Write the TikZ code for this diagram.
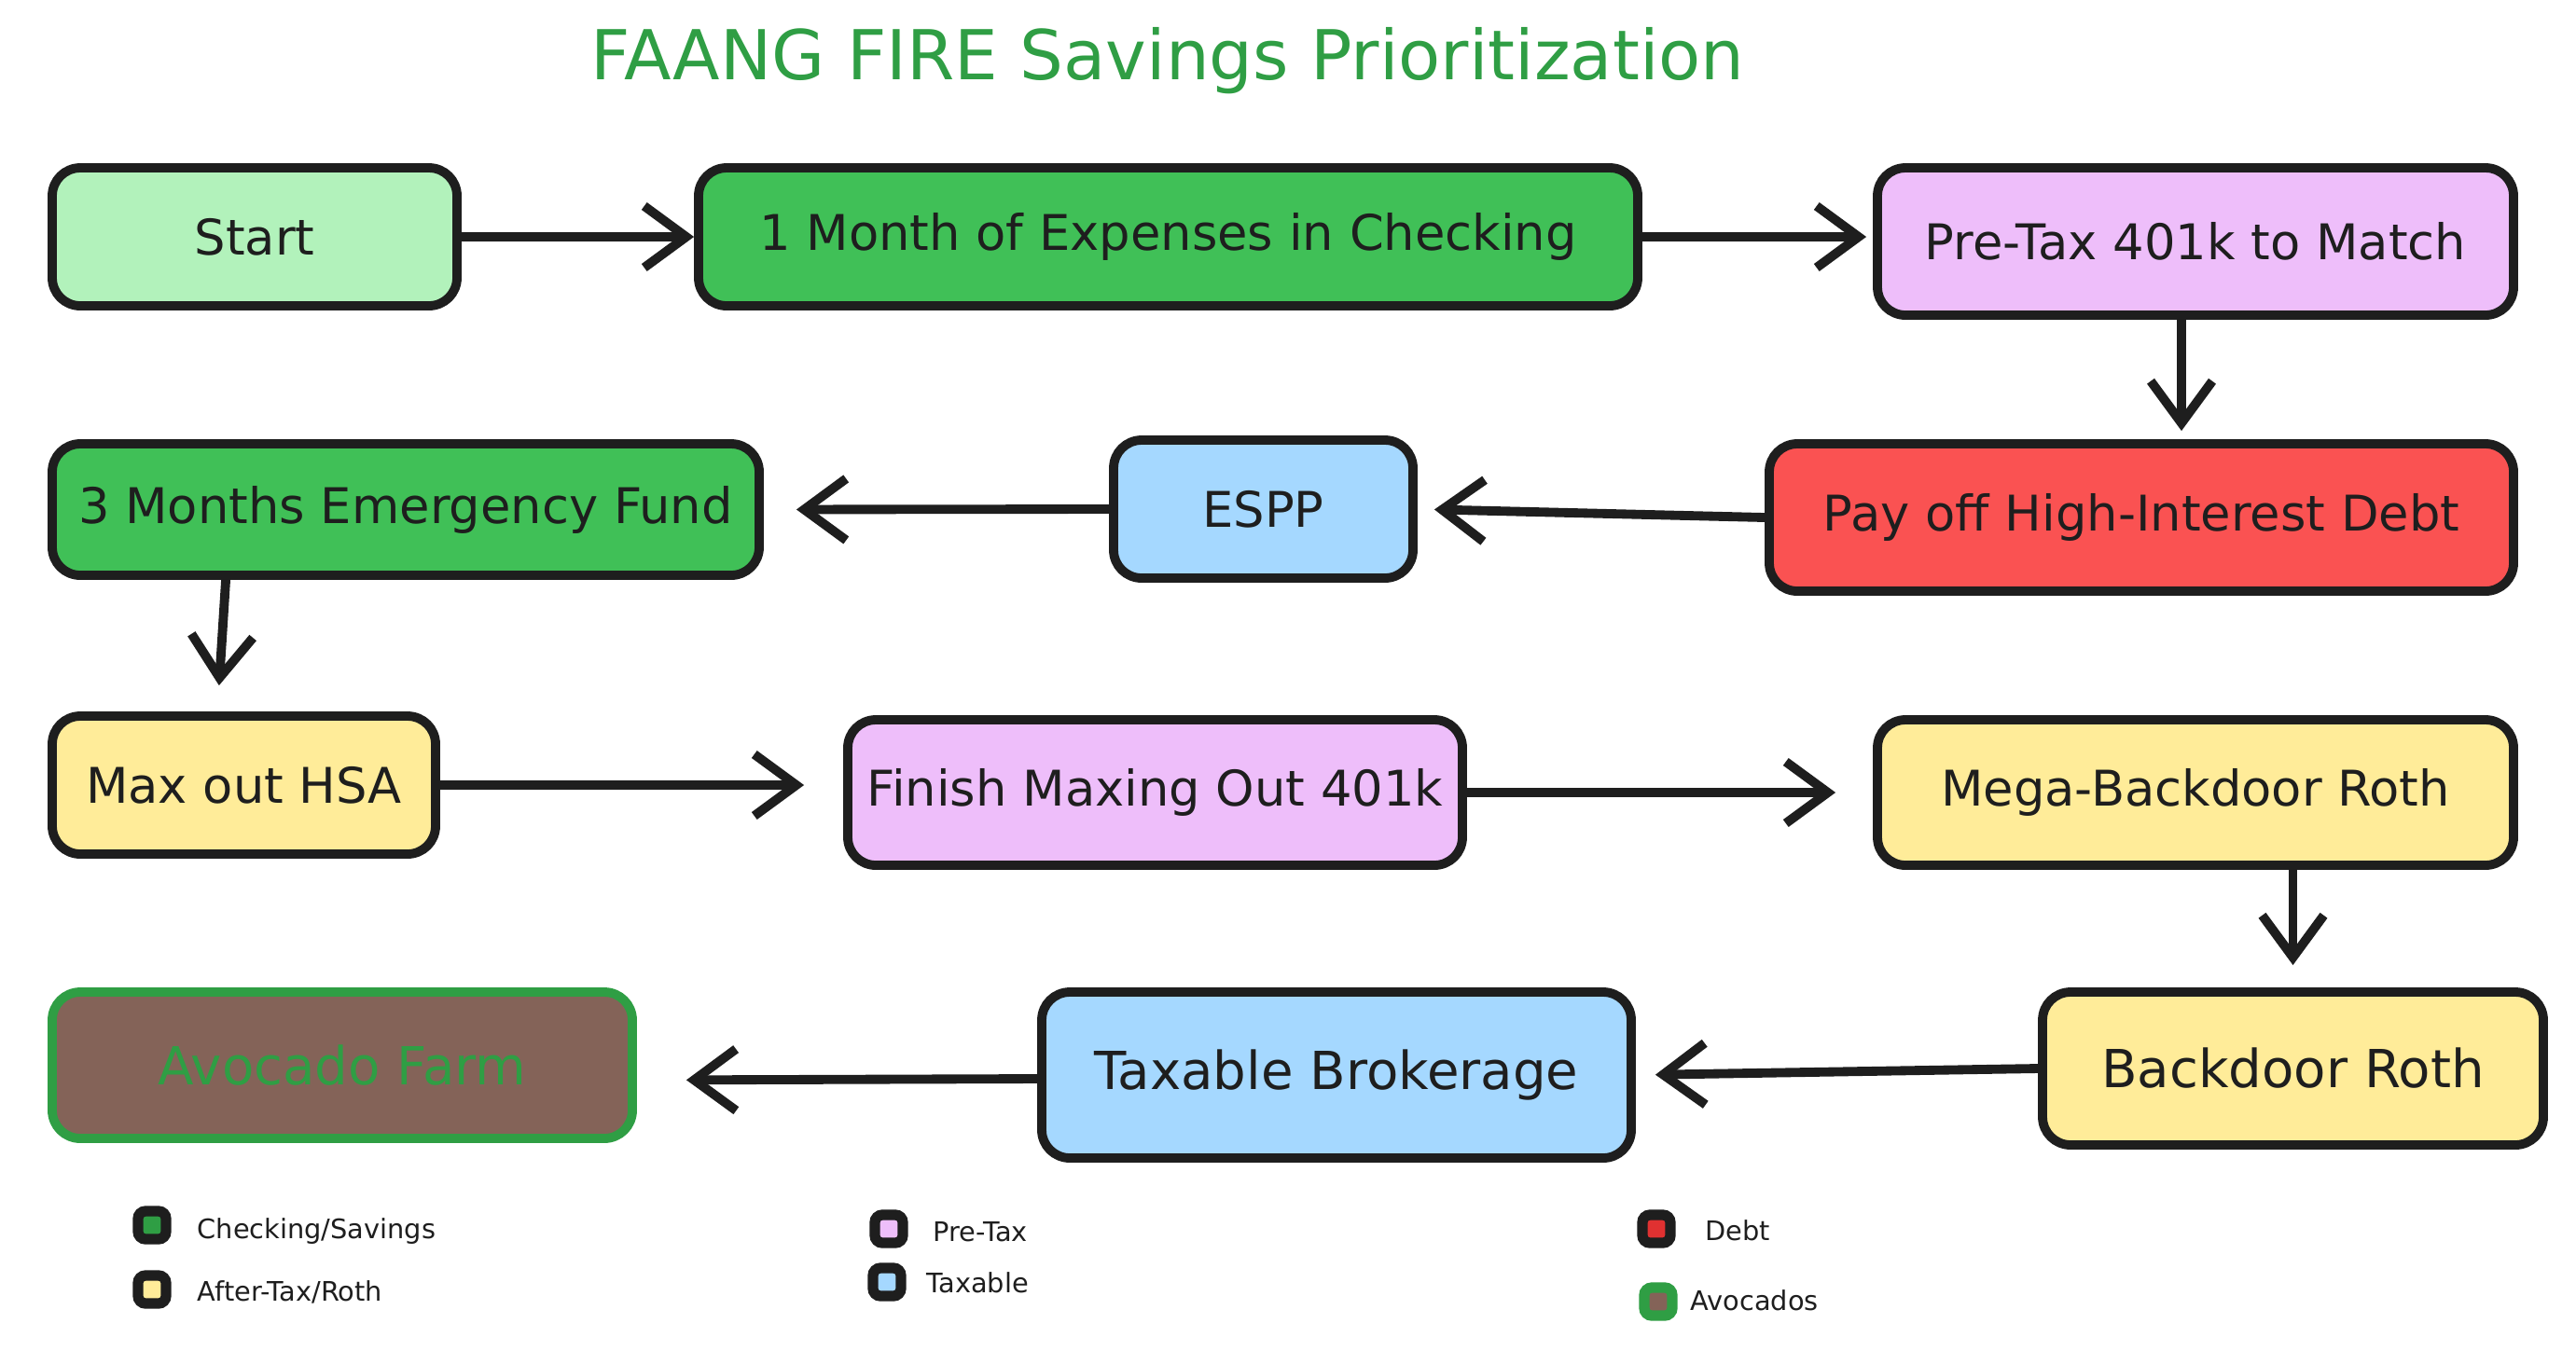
\documentclass[tikz,border=0pt]{standalone}
\usepackage{fontspec}
\setmainfont{DejaVu Sans}
\usetikzlibrary{arrows.meta,calc}
\definecolor{ink}{HTML}{1E1E1E}
\definecolor{cLightGreen}{HTML}{B2F2BB}
\definecolor{cGreen}{HTML}{40C057}
\definecolor{cDarkGreen}{HTML}{2F9E44}
\definecolor{cPurple}{HTML}{EEBEFA}
\definecolor{cRed}{HTML}{FA5252}
\definecolor{cDarkRed}{HTML}{E03131}
\definecolor{cBlue}{HTML}{A5D8FF}
\definecolor{cYellow}{HTML}{FFEC99}
\definecolor{cBrown}{HTML}{846358}
\begin{document}
\begin{tikzpicture}[x=1cm,y=1cm,
  box/.style={draw=ink, line width=2.8pt, rounded corners=0.3cm, inner sep=0pt, font=\fontsize{15}{18}\selectfont, text=ink},
  bigbox/.style={box, font=\fontsize{16}{19}\selectfont},
  arr/.style={draw=ink, line width=2.8pt, line cap=round, -{Straight Barb[length=0.45cm,width=0.66cm]}},
  leg/.style={draw=ink, line width=3.2pt, rounded corners=0.08cm, minimum size=0.30cm, inner sep=0pt},
  legtext/.style={anchor=west, inner sep=0pt, text=ink, font=\fontsize{8.2}{10}\selectfont},
  title/.style={text=cDarkGreen, font=\fontsize{21}{25}\selectfont, inner sep=0pt}
]
\useasboundingbox (0,0) rectangle (27.62,-14.48);

% title
\node[title, anchor=base] (ttl) at (12.52,-0.85) {FAANG FIRE Savings Prioritization};

% row 1
\node[box, fill=cLightGreen, minimum width=4.34cm, minimum height=1.48cm] (start) at (2.73,-2.54) {Start};
\node[box, fill=cGreen, minimum width=10.07cm, minimum height=1.48cm] (month1) at (12.525,-2.54) {1 Month of Expenses in Checking};
\node[box, fill=cPurple, minimum width=6.82cm, minimum height=1.58cm] (pretax) at (23.54,-2.59) {Pre-Tax 401k to Match};

% row 2
\node[box, fill=cRed, minimum width=7.98cm, minimum height=1.58cm] (payoff) at (22.96,-5.55) {Pay off High-Interest Debt};
\node[box, fill=cBlue, minimum width=3.21cm, minimum height=1.48cm] (espp) at (13.545,-5.46) {ESPP};
\node[box, fill=cGreen, minimum width=7.58cm, minimum height=1.41cm] (months3) at (4.35,-5.465) {3 Months Emergency Fund};

% row 3
\node[box, fill=cYellow, minimum width=4.11cm, minimum height=1.48cm] (hsa) at (2.615,-8.42) {Max out HSA};
\node[box, fill=cPurple, minimum width=6.59cm, minimum height=1.56cm] (finish) at (12.385,-8.50) {Finish Maxing Out 401k};
\node[box, fill=cYellow, minimum width=6.82cm, minimum height=1.56cm] (mega) at (23.54,-8.50) {Mega-Backdoor Roth};

% row 4
\node[bigbox, fill=cYellow, minimum width=5.37cm, minimum height=1.64cm] (backdoor) at (24.585,-11.46) {Backdoor Roth};
\node[bigbox, fill=cBlue, minimum width=6.32cm, minimum height=1.78cm] (taxable) at (14.33,-11.53) {Taxable Brokerage};
\node[bigbox, draw=cDarkGreen, fill=cBrown, text=cDarkGreen, minimum width=6.22cm, minimum height=1.57cm] (avocado) at (3.67,-11.425) {Avocado Farm};

% arrows
\draw[arr] (start.east) -- (month1.west);
\draw[arr, shorten >=0.07cm] (month1.east) -- (month1.east -| pretax.west);
\draw[arr, shorten >=0.09cm] ([xshift=-0.15cm]pretax.south) -- ([xshift=-0.15cm]pretax.south |- payoff.north);
\draw[arr, shorten >=0.18cm] (payoff.west) -- (espp.east);
\draw[arr, shorten >=0.35cm] (espp.west) -- (months3.east);
\draw[arr, shorten >=0.28cm] ([xshift=1.91cm]months3.south west) -- ([xshift=1.82cm]months3.south west |- hsa.north);
\draw[arr, shorten >=0.42cm] (hsa.east) -- ([yshift=0.08cm]finish.west);
\draw[arr, shorten >=0.40cm] (finish.east) -- (mega.west);
\draw[arr, shorten >=0.24cm] (backdoor.north |- mega.south) -- (backdoor.north);
\draw[arr, shorten >=0.21cm] (backdoor.west) -- (taxable.east);
\draw[arr, shorten >=0.53cm] ([yshift=-0.04cm]taxable.west) -- ([yshift=-0.16cm]avocado.east);

% legend
\node[leg, fill=cDarkGreen] (l1) at (1.63,-13.14) {};
\node[legtext] (t1) at (2.11,-13.21) {Checking/Savings};
\node[leg, fill=cYellow] (l2) at (1.63,-13.83) {};
\node[legtext] (t2) at (2.11,-13.86) {After-Tax/Roth};
\node[leg, fill=cPurple] (l3) at (9.53,-13.18) {};
\node[legtext] (t3) at (10.0,-13.21) {Pre-Tax};
\node[leg, fill=cBlue] (l4) at (9.51,-13.75) {};
\node[legtext] (t4) at (9.93,-13.76) {Taxable};
\node[leg, fill=cDarkRed] (l5) at (17.76,-13.18) {};
\node[legtext] (t5) at (18.28,-13.20) {Debt};
\node[leg, draw=cDarkGreen, fill=cBrown] (l6) at (17.78,-13.96) {};
\node[legtext] (t6) at (18.12,-13.95) {Avocados};
\end{tikzpicture}
\end{document}
